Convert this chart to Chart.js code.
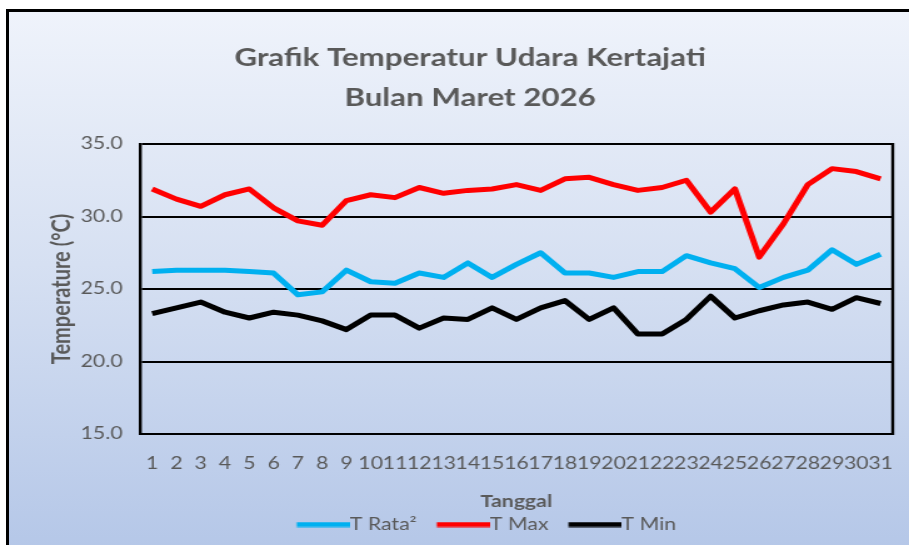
<!DOCTYPE html>
<html>
<head>
<meta charset="utf-8">
<script src="https://cdn.jsdelivr.net/npm/chart.js@4"></script>
<style>
  html, body { margin: 0; padding: 0; background: #fff; overflow: hidden; }
  #frame {
    position: absolute; left: 6px; top: 9px; width: 920px; height: 560px;
    border-top: 3px solid #000; border-left: 3px solid #000;
    background: linear-gradient(to bottom, #eff3fb 0%, #d6e0f2 45%, #b2c5e7 100%);
  }
  #chart { position: absolute; left: 0; top: 0; }
</style>
</head>
<body>
<div id="frame"></div>
<canvas id="chart" width="727" height="545" style="width:909px;height:545px"></canvas>
<script>
// Data
const days = ['1','2','3','4','5','6','7','8','9','10','11','12','13','14','15','16','17','18','19','20','21','22','23','24','25','26','27','28','29','30','31'];
const tRata = [26.2, 26.3, 26.3, 26.3, 26.2, 26.1, 24.6, 24.8, 26.3, 25.5, 25.4, 26.1, 25.8, 26.8, 25.8, 26.7, 27.5, 26.1, 26.1, 25.8, 26.2, 26.2, 27.3, 26.8, 26.4, 25.1, 25.8, 26.3, 27.7, 26.7, 27.4];
const tMax = [31.9, 31.2, 30.7, 31.5, 31.9, 30.6, 29.7, 29.4, 31.1, 31.5, 31.3, 32.0, 31.6, 31.8, 31.9, 32.2, 31.8, 32.6, 32.7, 32.2, 31.8, 32.0, 32.5, 30.3, 31.9, 27.2, 29.5, 32.2, 33.3, 33.1, 32.6];
const tMin = [23.3, 23.7, 24.1, 23.4, 23.0, 23.4, 23.2, 22.8, 22.2, 23.2, 23.2, 22.3, 23.0, 22.9, 23.7, 22.9, 23.7, 24.2, 22.9, 23.7, 21.9, 21.9, 22.9, 24.5, 23.0, 23.5, 23.9, 24.1, 23.6, 24.4, 24.0];
const yTicks = [15, 20, 25, 30, 35];

const textColor = '#595959';
const fontFamily = 'Lato, "Open Sans", sans-serif';
const legendFont = 17;
const legendBox = 34;
const legendGap = 10;

// Legend marker: a line that runs right up to the label text
const legendLine = (color) => {
    const half = legendFont / 2;
    const c = document.createElement('canvas');
    c.width = legendBox + legendGap + legendFont;
    c.height = 6;
    const g = c.getContext('2d');
    g.fillStyle = color;
    g.fillRect(half + legendGap, 0.5, legendBox + half, 5);
    return c;
};

// Right side frame of the plot area, and legend nudged a little to the right
const plotFrame = {
    id: 'plotFrame',
    afterLayout(chart) {
        chart.legend.left += 8;
        chart.legend.right += 8;
    },
    afterDatasetsDraw(chart) {
        const { ctx, chartArea } = chart;
        ctx.save();
        ctx.strokeStyle = '#000';
        ctx.lineWidth = 2.4;
        ctx.beginPath();
        ctx.moveTo(chartArea.right, chartArea.top - 1);
        ctx.lineTo(chartArea.right, chartArea.bottom + 1);
        ctx.stroke();
        ctx.restore();
    }
};

const makeSet = (label, data, color) => ({
    label: label,
    data: data,
    borderColor: color,
    backgroundColor: color,
    borderWidth: 5,
    pointRadius: 0,
    pointHoverRadius: 0,
    tension: 0,
    borderJoinStyle: 'round',
    pointStyle: legendLine(color)
});

const ctx = document.getElementById('chart').getContext('2d');
new Chart(ctx, {
    type: 'line',
    data: {
        labels: days,
        datasets: [
            makeSet('T Rata²', tRata, '#00b0f0'),
            makeSet('T Max', tMax, '#ff0000'),
            makeSet('T Min', tMin, '#000000')
        ]
    },
    options: {
        responsive: false,
        animation: false,
        layout: { padding: { left: 38, right: 13, top: 0, bottom: 2 } },
        plugins: {
            title: {
                display: true,
                text: ['Grafik Temperatur Udara Kertajati', 'Bulan Maret 2026'],
                color: textColor,
                font: { family: fontFamily, size: 25, weight: 'bold', lineHeight: 1.6 },
                padding: { top: 38, bottom: 26 }
            },
            legend: {
                position: 'bottom',
                labels: {
                    usePointStyle: true,
                    pointStyleWidth: legendBox + legendGap,
                    color: textColor,
                    font: { family: fontFamily, size: legendFont },
                    padding: 6
                }
            },
            tooltip: { enabled: false }
        },
        scales: {
            x: {
                offset: true,
                afterFit: (scale) => { scale.paddingLeft = 0; scale.paddingRight = 0; },
                grid: { display: false, drawTicks: false },
                border: { display: true, color: '#000', width: 2 },
                ticks: {
                    color: textColor,
                    font: { family: fontFamily, size: 17, lineHeight: 1.0 },
                    autoSkip: false,
                    maxRotation: 0,
                    padding: 21
                },
                title: {
                    display: true,
                    text: 'Tanggal',
                    color: textColor,
                    font: { family: fontFamily, size: 17, weight: 'bold', lineHeight: 1.0 },
                    padding: { top: 0, bottom: 0 }
                }
            },
            y: {
                min: 15,
                max: 35,
                afterBuildTicks: (scale) => { scale.ticks = yTicks.map(v => ({ value: v })); },
                afterFit: (scale) => { scale.width = 74; },
                grid: { color: '#000', lineWidth: 2, drawTicks: false },
                border: { display: true, color: '#000', width: 2.4 },
                ticks: {
                    color: textColor,
                    font: { family: fontFamily, size: 17 },
                    padding: 14,
                    callback: (value) => Number(value).toFixed(1)
                },
                title: {
                    display: true,
                    text: 'Temperature (°C)',
                    color: textColor,
                    font: { family: fontFamily, size: 20, weight: 'bold' },
                    padding: { top: 0, bottom: 0 }
                }
            }
        }
    },
    plugins: [plotFrame]
});
</script>
</body>
</html>
